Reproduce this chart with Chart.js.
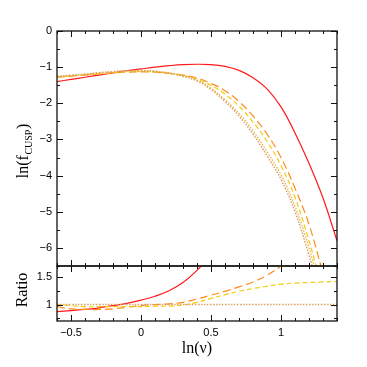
<!DOCTYPE html>
<html>
<head>
<meta charset="utf-8">
<script src="https://cdn.jsdelivr.net/npm/chart.js@4/dist/chart.umd.min.js"></script>
<style>
  html, body { margin: 0; padding: 0; background: #fff; }
  #wrap { position: relative; width: 367px; height: 367px; }
  canvas { position: absolute; left: 0; top: 0; }
</style>
</head>
<body>
<div id="wrap">
  <canvas id="top" width="367" height="367"></canvas>
  <canvas id="bot" width="367" height="367"></canvas>
</div>
<script>
// x grid: ln(nu)
const xs = [-0.6, -0.5, -0.4, -0.3, -0.2, -0.1, 0, 0.1, 0.2, 0.3, 0.4, 0.5, 0.6, 0.7, 0.8, 0.9, 1.0, 1.1, 1.2, 1.3, 1.4];

// top panel: ln(f_cusp)
const redLn    = [-1.40, -1.34, -1.28, -1.22, -1.16, -1.10, -1.05, -1.00, -0.96, -0.93, -0.92, -0.93, -0.98, -1.09, -1.29, -1.60, -2.10, -2.82, -3.66, -4.62, -5.80];
const orangeLn = [-1.28, -1.25, -1.22, -1.19, -1.16, -1.14, -1.13, -1.14, -1.17, -1.22, -1.30, -1.45, -1.65, -1.95, -2.35, -2.85, -3.50, -4.35, -5.35, -6.70, -8.00];
const yellowLn = [-1.27, -1.24, -1.21, -1.18, -1.15, -1.13, -1.12, -1.13, -1.17, -1.23, -1.33, -1.50, -1.75, -2.08, -2.52, -3.05, -3.72, -4.60, -5.80, -7.20, -8.50];
const dotLn    = [-1.26, -1.23, -1.20, -1.16, -1.13, -1.10, -1.10, -1.12, -1.17, -1.25, -1.38, -1.62, -1.95, -2.35, -2.85, -3.45, -4.10, -5.00, -6.20, -7.60, -9.00];
const dot2Ln   = [-1.25, -1.22, -1.19, -1.15, -1.12, -1.10, -1.09, -1.11, -1.16, -1.24, -1.36, -1.58, -1.90, -2.28, -2.76, -3.34, -3.98, -4.85, -6.00, -7.40, -8.80];

// bottom panel: ratio to the reference (dotted) curve
const redRatio    = [0.87, 0.89, 0.91, 0.94, 0.98, 1.02, 1.08, 1.15, 1.25, 1.40, 1.62, 1.90, null, null, null, null, null, null, null, null, null];
const orangeRatio = [0.96, 0.92, 0.91, 0.91, 0.92, 0.95, 0.98, 1.00, 1.01, 1.04, 1.10, 1.17, 1.24, 1.32, 1.41, 1.53, 1.70, 1.90, null, null, null];
const yellowRatio = [1.00, 0.98, 0.96, 0.96, 0.96, 0.96, 0.96, 0.97, 0.97, 0.99, 1.04, 1.11, 1.18, 1.24, 1.29, 1.33, 1.37, 1.39, 1.40, 1.41, 1.42];
const dotRatio    = [1, 1, 1, 1, 1, 1, 1, 1, 1, 1, 1, 1, 1, 1, 1, 1, 1, 1, 1, 1, 1];

// tick labels
const xTicks = [-0.5, 0, 0.5, 1];
const yTopTicks = [0, -1, -2, -3, -4, -5, -6];
const yBotTicks = [1, 1.5];

const RED = "#ff1a1a", ORANGE = "#ff8a1e", YELLOW = "#f2cc10", TAN = "#d9a062", TAN2 = "#f0a838";
const SANS = "'Liberation Sans', Arial, sans-serif";
const SERIF = "'Liberation Serif', 'Times New Roman', serif";

const pts = (ys) => xs.map((x, i) => ({ x: x, y: ys[i] }));
const minus = (v) => String(v).replace("-", "\u2212");

function line(data, color, dash, width) {
  return {
    data: pts(data),
    borderColor: color,
    borderWidth: width || 1.2,
    borderDash: dash || [],
    pointRadius: 0,
    fill: false,
    tension: 0.4,
    spanGaps: false
  };
}

// frame with inward ticks on all four sides
function frameTicks(yMinorStep) {
  return {
    id: "frameTicks",
    afterDatasetsDraw(chart) {
      const { ctx, chartArea: a, scales } = chart;
      const x = scales.x, y = scales.y;
      ctx.save();
      ctx.strokeStyle = "#111";
      ctx.lineWidth = 1.3;
      ctx.strokeRect(a.left, a.top, a.right - a.left, a.bottom - a.top);
      ctx.lineWidth = 1;
      ctx.beginPath();
      for (let v = -0.6; v <= 1.4001; v += 0.1) {
        const r = Math.round(v * 10) / 10;
        const len = (Math.abs(r * 2 - Math.round(r * 2)) < 1e-6) ? 6 : 3;
        const px = Math.round(x.getPixelForValue(r)) + 0.5;
        ctx.moveTo(px, a.bottom); ctx.lineTo(px, a.bottom - len);
        ctx.moveTo(px, a.top); ctx.lineTo(px, a.top + len);
      }
      const major = y.ticks.map(t => t.value);
      for (let v = Math.ceil(y.min / yMinorStep) * yMinorStep; v <= y.max + 1e-6; v += yMinorStep) {
        const r = Math.round(v * 100) / 100;
        const len = major.some(m => Math.abs(m - r) < 1e-6) ? 6 : 3;
        const py = Math.round(y.getPixelForValue(r)) + 0.5;
        ctx.moveTo(a.left, py); ctx.lineTo(a.left + len, py);
        ctx.moveTo(a.right, py); ctx.lineTo(a.right - len, py);
      }
      ctx.stroke();
      ctx.restore();
    }
  };
}

const topLabel = {
  id: "topLabel",
  afterDraw(chart) {
    const ctx = chart.ctx;
    ctx.save();
    ctx.fillStyle = "#000";
    ctx.textBaseline = "alphabetic";
    const big = "16px " + SERIF, small = "10px " + SERIF;
    ctx.font = big;
    const w1 = ctx.measureText("ln(f").width, w3 = ctx.measureText(")").width;
    ctx.font = small;
    const w2 = ctx.measureText("CUSP").width + 1;
    const total = w1 + w2 + w3;
    ctx.translate(28, 151);
    ctx.rotate(-Math.PI / 2);
    let cx = -total / 2;
    ctx.font = big; ctx.fillText("ln(f", cx, 0); cx += w1;
    ctx.font = small; ctx.fillText("CUSP", cx + 0.5, 4); cx += w2;
    ctx.font = big; ctx.fillText(")", cx, 0);
    ctx.restore();
  }
};

const botLabel = {
  id: "botLabel",
  afterDraw(chart) {
    const ctx = chart.ctx;
    ctx.save();
    ctx.fillStyle = "#000";
    ctx.font = "16px " + SERIF;
    ctx.textAlign = "center";
    ctx.textBaseline = "middle";
    ctx.fillText("ln(\u03bd)", 197, 349);
    ctx.translate(23, 290);
    ctx.rotate(-Math.PI / 2);
    ctx.fillText("Ratio", 0, 0);
    ctx.restore();
  }
};

const yTickFont = { family: SANS, size: 11 };

new Chart(document.getElementById("top"), {
  type: "line",
  data: {
    datasets: [
      line(dotLn, TAN, [1.5, 1.5], 1.5),
      line(dot2Ln, TAN2, [1.5, 1.5], 1.2),
      line(yellowLn, YELLOW, [5, 3]),
      line(orangeLn, ORANGE, [8, 4]),
      line(redLn, RED)
    ]
  },
  options: {
    responsive: false,
    animation: false,
    layout: { padding: { left: 0, top: 31, right: 30, bottom: 101 } },
    plugins: { legend: { display: false }, tooltip: { enabled: false } },
    scales: {
      x: { type: "linear", min: -0.6, max: 1.4, display: false },
      y: {
        type: "linear", min: -6.5, max: 0,
        grid: { display: false, drawTicks: false },
        border: { display: false },
        afterBuildTicks: (s) => { s.ticks = yTopTicks.map(v => ({ value: v })); },
        afterFit: (s) => { s.width = 57; },
        ticks: { color: "#000", font: yTickFont, padding: 5, callback: (v) => minus(v) }
      }
    }
  },
  plugins: [frameTicks(0.5), topLabel]
});

new Chart(document.getElementById("bot"), {
  type: "line",
  data: {
    datasets: [
      line(dotRatio, TAN, [1.5, 1.5], 1.5),
      line(yellowRatio, YELLOW, [5, 3]),
      line(orangeRatio, ORANGE, [8, 4]),
      line(redRatio, RED)
    ]
  },
  options: {
    responsive: false,
    animation: false,
    layout: { padding: { left: 0, top: 266, right: 30, bottom: 0 } },
    plugins: { legend: { display: false }, tooltip: { enabled: false } },
    scales: {
      x: {
        type: "linear", min: -0.6, max: 1.4,
        grid: { display: false, drawTicks: false },
        border: { display: false },
        afterBuildTicks: (s) => { s.ticks = xTicks.map(v => ({ value: v })); },
        afterFit: (s) => { s.height = 46; },
        ticks: { color: "#000", font: yTickFont, padding: 5, maxRotation: 0, callback: (v) => minus(v) }
      },
      y: {
        type: "linear", min: 0.7, max: 1.7,
        grid: { display: false, drawTicks: false },
        border: { display: false },
        afterBuildTicks: (s) => { s.ticks = yBotTicks.map(v => ({ value: v })); },
        afterFit: (s) => { s.width = 57; },
        ticks: { color: "#000", font: yTickFont, padding: 5, callback: (v) => minus(v) }
      }
    }
  },
  plugins: [frameTicks(0.25), botLabel]
});
</script>
</body>
</html>
